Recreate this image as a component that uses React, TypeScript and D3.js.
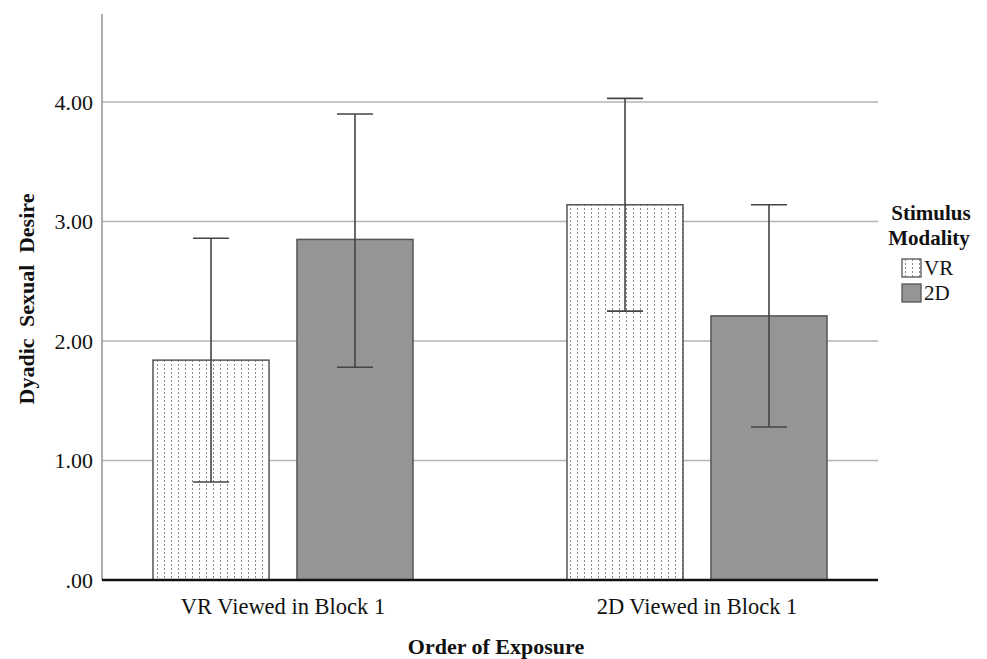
import React from 'react';
import * as d3 from 'd3';

const categories = ['VR Viewed in Block 1', '2D Viewed in Block 1'];
const series = ['VR', '2D'];
const means = [
  [1.84, 2.85],
  [3.14, 2.21],
];
const lower = [
  [0.82, 1.78],
  [2.25, 1.28],
];
const upper = [
  [2.86, 3.9],
  [4.03, 3.14],
];
const yTicks = [0, 1, 2, 3, 4];
const yTickLabels = ['.00', '1.00', '2.00', '3.00', '4.00'];

const W = 987;
const H = 659;
const left = 102;
const right = 878;
const top = 14;
const bottom = 580;
const FONT = 'Liberation Serif, Times New Roman, serif';

export default function App() {
  const y = d3.scaleLinear().domain([0, 4]).range([bottom, 102]);
  const x = d3.scalePoint<string>().domain(categories).range([283, 697]);
  const inner = d3.scaleBand<string>().domain(series).range([-130, 130]).paddingInner(0.194);
  const bw = inner.bandwidth();
  const capHalf = 18;

  return (
    <svg width={W} height={H} style={{ position: 'absolute', left: 0, top: 0, background: '#fff' }}>
      <defs>
        <pattern id="dots" width={7} height={4} patternUnits="userSpaceOnUse">
          <rect x={3} y={0} width={1} height={2} fill="#8a8a8a" />
        </pattern>
      </defs>
      <rect width={W} height={H} fill="#fff" />

      {/* gridlines */}
      {yTicks.filter((t) => t > 0).map((t) => (
        <line key={t} x1={left} x2={right} y1={y(t)} y2={y(t)} stroke="#b5b5b5" strokeWidth={1.3} />
      ))}
      {/* y axis */}
      <line x1={left} x2={left} y1={top} y2={bottom} stroke="#9a9a9a" strokeWidth={1.6} />
      {yTicks.map((t, i) => (
        <text key={t} x={93} y={y(t)} dy="0.35em" textAnchor="end" fontFamily={FONT} fontSize={22} fill="#111">
          {yTickLabels[i]}
        </text>
      ))}

      {/* bars */}
      {categories.map((c, ci) =>
        series.map((s, si) => {
          const cx = (x(c) as number) + (inner(s) as number) + bw / 2;
          const x0 = cx - bw / 2;
          const yTop = y(means[ci][si]);
          return (
            <g key={c + s}>
              {s === 'VR' ? (
                <>
                  <rect x={x0} y={yTop} width={bw} height={bottom - yTop} fill="#fff" />
                  <rect x={x0} y={yTop} width={bw} height={bottom - yTop} fill="url(#dots)" stroke="#555" strokeWidth={1.5} />
                </>
              ) : (
                <rect x={x0} y={yTop} width={bw} height={bottom - yTop} fill="#959595" stroke="#555" strokeWidth={1.5} />
              )}
            </g>
          );
        })
      )}

      {/* error bars */}
      {categories.map((c, ci) =>
        series.map((s, si) => {
          const cx = (x(c) as number) + (inner(s) as number) + bw / 2;
          const y1 = y(upper[ci][si]);
          const y2 = y(lower[ci][si]);
          return (
            <g key={'e' + c + s} stroke="#444" strokeWidth={1.6}>
              <line x1={cx} x2={cx} y1={y1} y2={y2} />
              <line x1={cx - capHalf} x2={cx + capHalf} y1={y1} y2={y1} />
              <line x1={cx - capHalf} x2={cx + capHalf} y1={y2} y2={y2} />
            </g>
          );
        })
      )}

      {/* baseline */}
      <line x1={left} x2={right} y1={bottom} y2={bottom} stroke="#111" strokeWidth={2.6} />

      {/* x tick labels */}
      {categories.map((c) => (
        <text key={c} x={x(c)} y={614} textAnchor="middle" fontFamily={FONT} fontSize={22.5} fill="#111">
          {c}
        </text>
      ))}

      {/* axis titles */}
      <text x={496} y={654} textAnchor="middle" fontFamily={FONT} fontSize={22} fontWeight="bold" fill="#111">
        Order of Exposure
      </text>
      <text
        transform={`translate(34, ${299}) rotate(-90)`}
        textAnchor="middle"
        fontFamily={FONT}
        fontSize={22}
        fontWeight="bold"
        fill="#111"
        wordSpacing={6}
      >
        Dyadic Sexual Desire
      </text>

      {/* legend */}
      <text x={931} y={220} textAnchor="middle" fontFamily={FONT} fontSize={21} fontWeight="bold" fill="#111">
        Stimulus
      </text>
      <text x={929} y={245} textAnchor="middle" fontFamily={FONT} fontSize={21} fontWeight="bold" fill="#111">
        Modality
      </text>
      {series.map((s, i) => (
        <g key={s} transform={`translate(902, ${259 + i * 25})`}>
          {s === 'VR' ? (
            <>
              <rect width={19} height={18} fill="#fff" />
              <rect width={19} height={18} fill="url(#dots)" stroke="#555" strokeWidth={1.3} />
            </>
          ) : (
            <rect width={19} height={18} fill="#959595" stroke="#555" strokeWidth={1.3} />
          )}
          <text x={22} y={16} fontFamily={FONT} fontSize={21} fill="#111">
            {s}
          </text>
        </g>
      ))}
    </svg>
  );
}
